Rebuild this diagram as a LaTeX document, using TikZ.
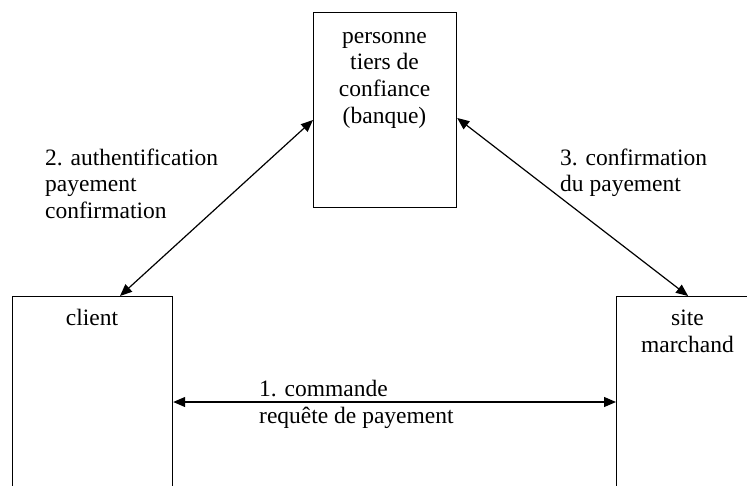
\documentclass[tikz,border=0pt]{standalone}
\usepackage{fontspec}
\setmainfont{Liberation Serif}
\usetikzlibrary{arrows.meta,calc}
\tikzset{
  party/.style={draw, line width=1.2pt, inner sep=0pt, anchor=north west},
  boxtext/.style={inner sep=0pt, anchor=base, align=center,
    font=\fontsize{23.5}{26.8}\selectfont},
  flowtext/.style={inner sep=0pt, anchor=base west, align=left,
    font=\fontsize{23.5}{26.8}\selectfont},
  flow/.style={line width=1.2pt, {Triangle[length=12pt,width=10pt]}-{Triangle[length=12pt,width=10pt]}}
}
\begin{document}
\begin{tikzpicture}[x=1pt, y=-1pt]
  \useasboundingbox (0,0) rectangle (747,485);
  \clip (0,0) rectangle (747,485);

  % the three parties
  \node[party, minimum width=143pt, minimum height=195pt] (bank) at (313,12) {};
  \node[party, minimum width=160pt, minimum height=200pt] (client) at (12,296) {};
  \node[party, minimum width=143pt, minimum height=200pt] (site) at (616,296) {};

  % box captions (anchored on the baseline of their last line)
  \node[boxtext] (banktext) at (384.5,123.5) {personne\\tiers de\\confiance\\(banque)};
  \node[boxtext] (clienttext) at (92,325) {client};
  \node[boxtext] (sitetext) at (687.5,352) {site\\marchand};

  % exchanges between the parties
  \coordinate (clienttop) at ([xshift=108pt]client.north west);
  \coordinate (bankleft) at ([yshift=-108pt]bank.north west);
  \coordinate (bankright) at ([yshift=-106pt]bank.north east);
  \coordinate (clientright) at ([yshift=-106pt]client.north east);

  \draw[flow] (clienttop) -- (bankleft);
  \draw[flow] (bankright) -- (site.north);
  \draw[flow] (clientright) -- (clientright -| site.west);

  \node[flowtext] (label2) at (45,218.6) {2. authentification\\payement\\confirmation};
  \node[flowtext] (label3) at (560,191.8) {3. confirmation\\du payement};
  \node[flowtext] (label1) at (259,423) {1. commande\\requête de payement};
\end{tikzpicture}
\end{document}
